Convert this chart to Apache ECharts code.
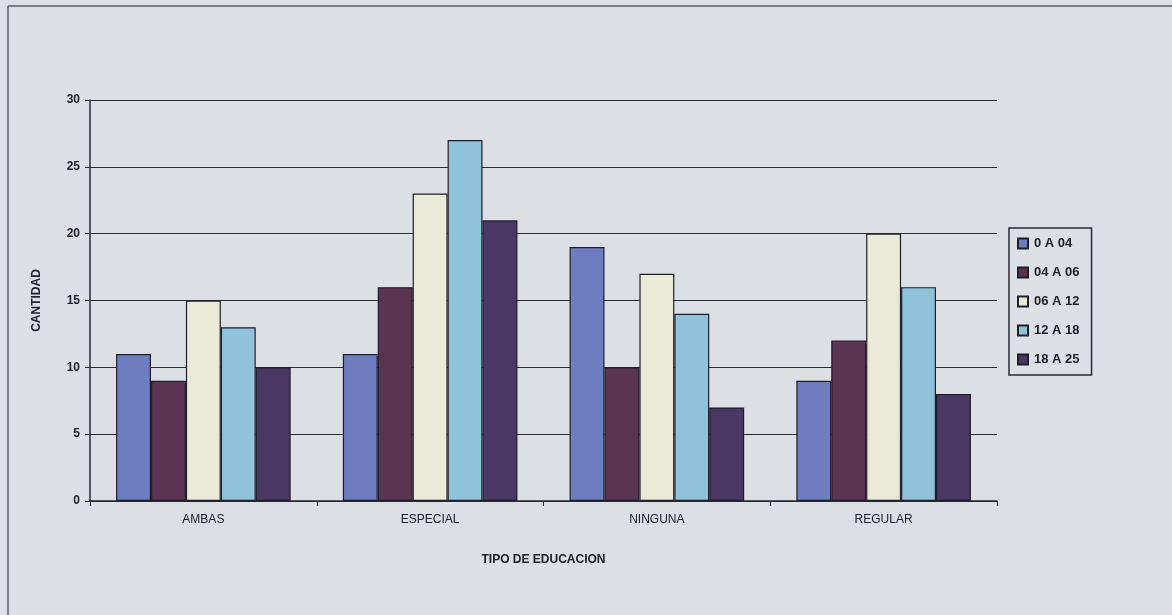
<!DOCTYPE html>
<html>
<head>
<meta charset="utf-8">
<script src="https://cdn.jsdelivr.net/npm/echarts@6/dist/echarts.min.js"></script>
<style>
  html, body { margin: 0; padding: 0; background: #dcdfe4; }
  #chart { width: 1172px; height: 615px; }
</style>
</head>
<body>
<div id="chart"></div>
<script>
// tipo de educacion
var categories = ['AMBAS', 'ESPECIAL', 'NINGUNA', 'REGULAR'];
var seriesNames = ['0 A 04', '04 A 06', '06 A 12', '12 A 18', '18 A 25'];
var v0a04 = [11, 11, 19, 9];
var v04a06 = [9, 16, 10, 12];
var v06a12 = [15, 23, 17, 20];
var v12a18 = [13, 27, 14, 16];
var v18a25 = [10, 21, 7, 8];
var yTicks = [0, 5, 10, 15, 20, 25, 30];

var colors = ['#6e7cc0', '#5a3450', '#ebead9', '#90c3d9', '#4a3764'];
var values = [v0a04, v04a06, v06a12, v12a18, v18a25];

var chart = echarts.init(document.getElementById('chart'));
var option = {
    backgroundColor: '#dcdfe4',
    animation: false,
    textStyle: { fontFamily: 'Liberation Sans, Arial, sans-serif' },
    graphic: [
        { type: 'line', shape: { x1: 8, y1: 6, x2: 1172, y2: 6 }, style: { stroke: '#5a5d66', lineWidth: 1.5 } },
        { type: 'line', shape: { x1: 8, y1: 6, x2: 8, y2: 615 }, style: { stroke: '#5a5d66', lineWidth: 1.5 } }
    ],
    grid: { left: 90, right: 175, top: 100, bottom: 114 },
    legend: {
        orient: 'vertical',
        left: 1009,
        top: 228,
        padding: [9, 12, 9, 8],
        itemGap: 16,
        itemWidth: 10,
        itemHeight: 10,
        borderColor: '#2a2a35',
        borderWidth: 1.5,
        icon: 'rect',
        data: seriesNames,
        textStyle: { color: '#202028', fontSize: 13, fontWeight: 'bold', padding: [0, 0, 0, 1] }
    },
    xAxis: {
        type: 'category',
        data: categories,
        name: 'TIPO DE EDUCACION',
        nameLocation: 'middle',
        nameGap: 53,
        nameTextStyle: { color: '#202028', fontSize: 12, fontWeight: 'bold' },
        axisLine: { lineStyle: { color: '#2a2a35', width: 1.5 } },
        axisTick: { show: true, length: 5, lineStyle: { color: '#2a2a35' } },
        axisLabel: { color: '#202028', fontSize: 12, margin: 13 }
    },
    yAxis: {
        type: 'value',
        min: 0,
        max: 30,
        interval: 5,
        name: 'CANTIDAD',
        nameLocation: 'middle',
        nameGap: 47,
        nameRotate: 90,
        nameTextStyle: { color: '#202028', fontSize: 12, fontWeight: 'bold' },
        axisLine: { show: true, lineStyle: { color: '#2a2a35', width: 1.5 } },
        axisTick: { show: true, length: 5, lineStyle: { color: '#2a2a35' } },
        axisLabel: {
            color: '#202028', fontSize: 12, fontWeight: 'bold', margin: 10,
            formatter: function (v) { return yTicks.indexOf(v) >= 0 ? String(v) : ''; }
        },
        splitLine: { show: true, lineStyle: { color: '#2a2a35', width: 1.2 } }
    },
    series: seriesNames.map(function (name, i) {
        return {
            name: name,
            type: 'bar',
            data: values[i],
            barGap: '0%',
            barCategoryGap: '23%',
            itemStyle: { color: colors[i], borderColor: '#1e1e2a', borderWidth: 1.2 }
        };
    })
};
chart.setOption(option);
</script>
</body>
</html>
